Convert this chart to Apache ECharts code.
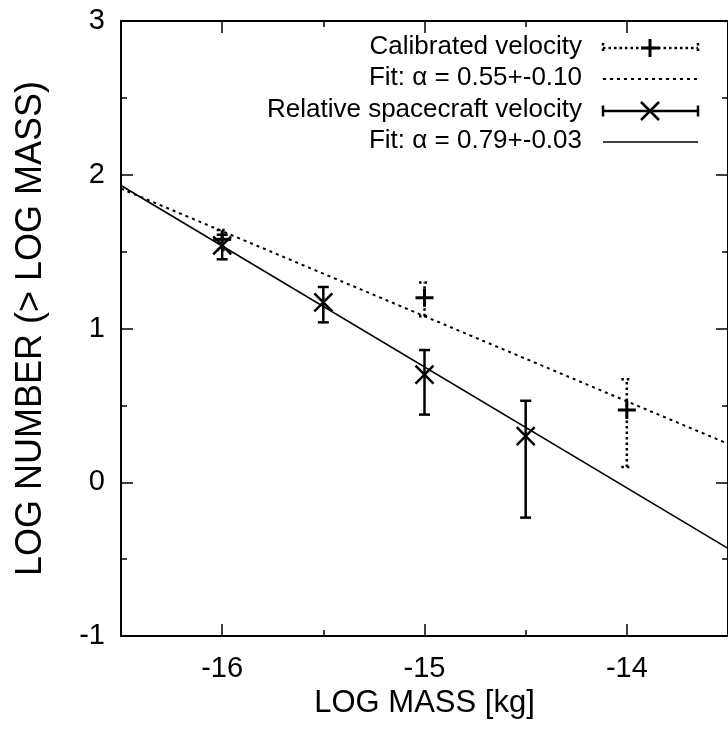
<!DOCTYPE html>
<html>
<head>
<meta charset="utf-8">
<script src="https://cdn.jsdelivr.net/npm/echarts@6/dist/echarts.min.js"></script>
<style>html,body{margin:0;padding:0;background:#fff;}#c{width:728px;height:737px;}</style>
</head>
<body>
<div id="c"></div>
<script>
// ---- data ----
var xTickLabels = [-16, -15, -14];
var xMinorTicks = [-15.5, -14.5];
var calX  = [-16, -15, -14];
var calY  = [1.58, 1.20, 0.47];
var calLo = [1.51, 1.08, 0.10];
var calHi = [1.64, 1.30, 0.67];
var relX  = [-16, -15.5, -15, -14.5];
var relY  = [1.54, 1.17, 0.70, 0.30];
var relLo = [1.45, 1.04, 0.44, -0.23];
var relHi = [1.61, 1.27, 0.86, 0.53];
var fitX    = [-16.5, -13.5];
var fitCalY = [1.91, 0.25];
var fitRelY = [1.93, -0.43];
var legendLabels = ['Calibrated velocity', 'Fit: \u03b1 = 0.55+-0.10', 'Relative spacecraft velocity', 'Fit: \u03b1 = 0.79+-0.03'];

var FONT = '"Liberation Sans", Arial, Helvetica, sans-serif';

function zip(a, b, c, d) {
  return a.map(function (v, i) { return c ? [v, b[i], c[i], d[i]] : [v, b[i]]; });
}

function errRender(kind) {
  return function (params, api) {
    var x = api.value(0), y = api.value(1), lo = api.value(2), hi = api.value(3);
    var pc = api.coord([x, y]), pl = api.coord([x, lo]), ph = api.coord([x, hi]);
    var cap = 5.5, m = 9;
    var dash = kind === 'cal' ? [2.5, 3] : null;
    var bar = { stroke: '#000', lineWidth: 2.5, lineDash: dash, fill: null };
    var mk = { stroke: '#000', lineWidth: kind === 'cal' ? 3 : 2.5, fill: null };
    var ch = [
      { type: 'line', shape: { x1: pl[0], y1: pl[1], x2: ph[0], y2: ph[1] }, style: bar },
      { type: 'line', shape: { x1: pl[0] - cap, y1: pl[1], x2: pl[0] + cap, y2: pl[1] }, style: bar },
      { type: 'line', shape: { x1: ph[0] - cap, y1: ph[1], x2: ph[0] + cap, y2: ph[1] }, style: bar }
    ];
    if (kind === 'cal') {
      ch.push({ type: 'line', shape: { x1: pc[0] - m, y1: pc[1], x2: pc[0] + m, y2: pc[1] }, style: mk });
      ch.push({ type: 'line', shape: { x1: pc[0], y1: pc[1] - m, x2: pc[0], y2: pc[1] + m }, style: mk });
    } else {
      ch.push({ type: 'line', shape: { x1: pc[0] - m, y1: pc[1] - m, x2: pc[0] + m, y2: pc[1] + m }, style: mk });
      ch.push({ type: 'line', shape: { x1: pc[0] - m, y1: pc[1] + m, x2: pc[0] + m, y2: pc[1] - m }, style: mk });
    }
    return { type: 'group', children: ch };
  };
}

// legend graphics
var legRowY = [48, 79, 111, 142];
var lx1 = 603, lx2 = 698, lxm = 650, ltx = 582;
var g = [];
legendLabels.forEach(function (t, i) {
  g.push({ type: 'text', x: ltx, y: legRowY[i] - 1,
    style: { text: t, font: '26px ' + FONT, fill: '#000', align: 'right', verticalAlign: 'middle' } });
});
var dotted = { stroke: '#000', lineWidth: 2, lineDash: [3, 4] };
var dottedBar = { stroke: '#000', lineWidth: 2.5, lineDash: [2.5, 3] };
var solid = { stroke: '#000', lineWidth: 2.5 };
// row 1
g.push({ type: 'line', shape: { x1: lx1, y1: legRowY[0], x2: lx2, y2: legRowY[0] }, style: dottedBar });
g.push({ type: 'line', shape: { x1: lx1, y1: legRowY[0] - 5, x2: lx1, y2: legRowY[0] + 5 }, style: dottedBar });
g.push({ type: 'line', shape: { x1: lx2, y1: legRowY[0] - 5, x2: lx2, y2: legRowY[0] + 5 }, style: dottedBar });
g.push({ type: 'line', shape: { x1: lxm - 9, y1: legRowY[0], x2: lxm + 9, y2: legRowY[0] }, style: { stroke: '#000', lineWidth: 3 } });
g.push({ type: 'line', shape: { x1: lxm, y1: legRowY[0] - 9, x2: lxm, y2: legRowY[0] + 9 }, style: { stroke: '#000', lineWidth: 3 } });
// row 2
g.push({ type: 'line', shape: { x1: lx1, y1: legRowY[1], x2: lx2, y2: legRowY[1] }, style: dotted });
// row 3
g.push({ type: 'line', shape: { x1: lx1, y1: legRowY[2], x2: lx2, y2: legRowY[2] }, style: solid });
g.push({ type: 'line', shape: { x1: lx1, y1: legRowY[2] - 5.5, x2: lx1, y2: legRowY[2] + 5.5 }, style: solid });
g.push({ type: 'line', shape: { x1: lx2, y1: legRowY[2] - 5.5, x2: lx2, y2: legRowY[2] + 5.5 }, style: solid });
g.push({ type: 'line', shape: { x1: lxm - 9, y1: legRowY[2] - 9, x2: lxm + 9, y2: legRowY[2] + 9 }, style: solid });
g.push({ type: 'line', shape: { x1: lxm - 9, y1: legRowY[2] + 9, x2: lxm + 9, y2: legRowY[2] - 9 }, style: solid });
// row 4
g.push({ type: 'line', shape: { x1: lx1, y1: legRowY[3], x2: lx2, y2: legRowY[3] }, style: { stroke: '#000', lineWidth: 1.6 } });

var axLine = { show: true, onZero: false, lineStyle: { color: '#000', width: 2 } };
function xAx(pos, showLabel, ticks, len) {
  return {
    type: 'value', position: pos, min: -16.5, max: -13.5,
    axisLine: axLine, splitLine: { show: false },
    axisTick: { show: true, inside: true, length: len, customValues: ticks, lineStyle: { color: '#000', width: 1.5 } },
    axisLabel: showLabel ? { show: true, customValues: xTickLabels, margin: 18, color: '#000', fontSize: 29, fontFamily: FONT } : { show: false },
    name: showLabel ? 'LOG MASS [kg]' : '', nameLocation: 'middle', nameGap: 43,
    nameTextStyle: { fontSize: 31, fontFamily: FONT, color: '#000' }
  };
}
function yAx(pos, showLabel) {
  return {
    type: 'value', position: pos, min: -1, max: 3, interval: 1,
    axisLine: axLine, splitLine: { show: false },
    axisTick: { show: true, inside: true, length: 12, lineStyle: { color: '#000', width: 1.5 } },
    minorTick: { show: true, splitNumber: 2, length: 6, lineStyle: { color: '#000', width: 1.5 } },
    minorSplitLine: { show: false },
    axisLabel: showLabel ? { show: true, margin: 16, color: '#000', fontSize: 29, fontFamily: FONT } : { show: false },
    name: showLabel ? 'LOG NUMBER (> LOG MASS)' : '', nameLocation: 'middle', nameGap: 72,
    nameTextStyle: { fontSize: 36, fontFamily: FONT, color: '#000' }
  };
}

var chart = echarts.init(document.getElementById('c'), null, { renderer: 'canvas' });
chart.setOption({
  backgroundColor: '#fff',
  animation: false,
  grid: { left: 121, top: 21, width: 615, height: 615, containLabel: false },
  xAxis: [
    xAx('bottom', true, xTickLabels, 12),
    xAx('bottom', false, xMinorTicks, 6),
    xAx('top', false, xTickLabels, 12),
    xAx('top', false, xMinorTicks, 6)
  ],
  yAxis: [yAx('left', true), yAx('right', false)],
  graphic: g,
  series: [
    { type: 'line', data: zip(fitX, fitCalY), symbol: 'none', clip: true,
      lineStyle: { color: '#000', width: 2, type: [3, 4] } },
    { type: 'line', data: zip(fitX, fitRelY), symbol: 'none', clip: true,
      lineStyle: { color: '#000', width: 1.6 } },
    { type: 'custom', renderItem: errRender('cal'), encode: { x: 0, y: 1 },
      data: zip(calX, calY, calLo, calHi) },
    { type: 'custom', renderItem: errRender('rel'), encode: { x: 0, y: 1 },
      data: zip(relX, relY, relLo, relHi) }
  ]
});
</script>
</body>
</html>
